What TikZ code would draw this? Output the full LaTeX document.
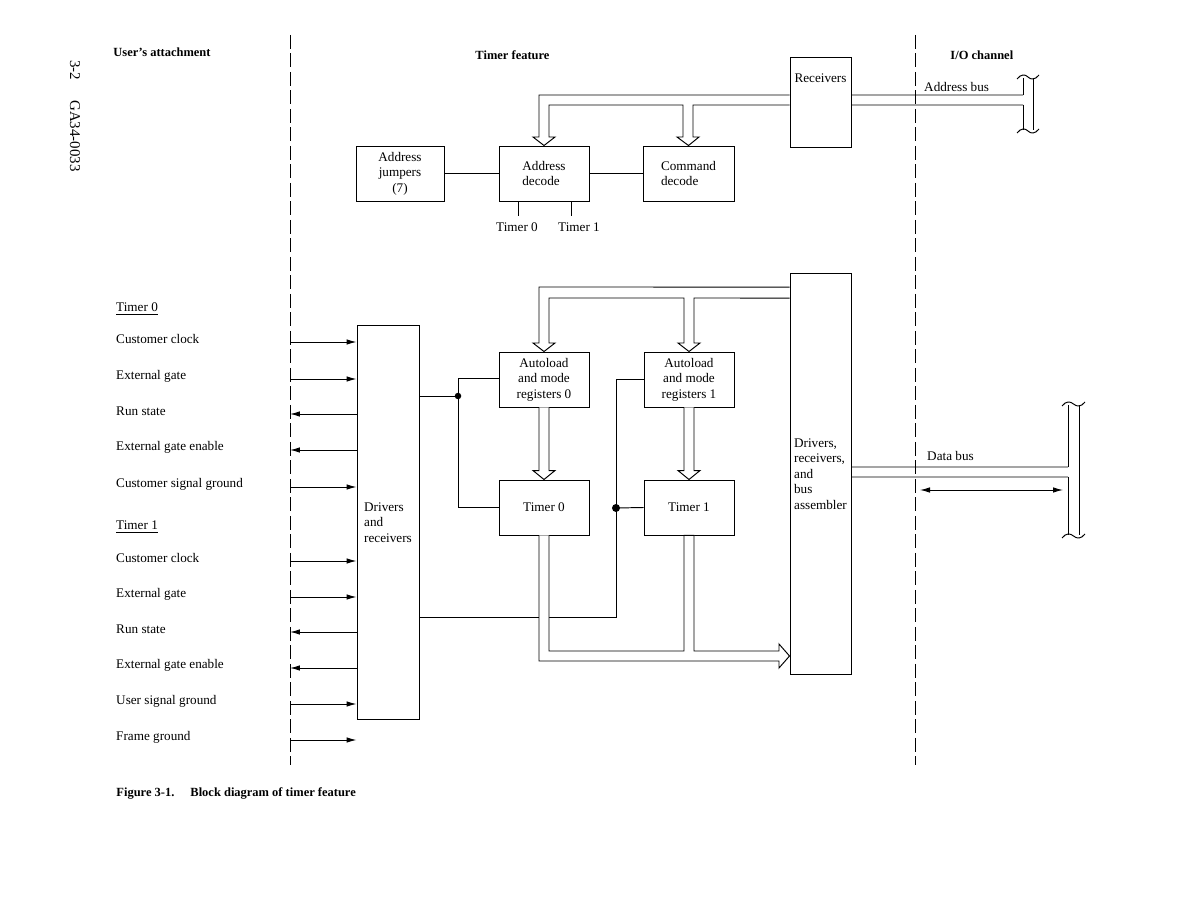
\documentclass[tikz,border=0pt]{standalone}
\usepackage{fontspec}
\setmainfont{Liberation Serif}
\usetikzlibrary{arrows.meta}

% hollow bus arrow from the bottom of one box to the top of another
\newcommand{\vbus}[2]{\draw[bus] ([xshift=-0.1cm]#1.south) -- ([xshift=-0.1cm,yshift=0.18cm]#2.north) -- ([xshift=-0.22cm,yshift=0.18cm]#2.north) -- (#2.north) -- ([xshift=0.22cm,yshift=0.18cm]#2.north) -- ([xshift=0.1cm,yshift=0.18cm]#2.north) -- ([xshift=0.1cm]#1.south);}
% wavy end of a bus bracket
\newcommand{\buscap}[3]{\draw (#1-6,#3+2) .. controls (#1-2,#3-3) and (#1+2,#3-3) .. ({(#1+#2)/2},#3) .. controls (#2-2,#3+3) and (#2+2,#3+3) .. (#2+6,#3-2);}

\begin{document}
\begin{tikzpicture}[
    x=0.02cm, y=-0.02cm,
    line width=0.55pt,
    >={Latex[length=2mm,width=1.1mm]},
    txt/.style={font=\fontsize{7.5}{8.9}\selectfont, inner sep=1pt},
    box/.style={draw, txt, align=center, minimum width=1.8cm, minimum height=1.1cm},
    head/.style={font=\fontsize{7.1}{9}\selectfont\bfseries, anchor=west, inner sep=0pt},
    sig/.style={txt, anchor=west},
    bus/.style={line join=miter, fill=white},
    bound/.style={dash pattern=on 0.28cm off 0.09cm}
]
\useasboundingbox (0,0) rectangle (1188,919);

% boundaries
\draw[bound] (290,35) -- (290,765);
\draw[bound] (915,35) -- (915,765);

\node[head] (hdusr) at (113,52) {User's attachment};
\node[head] (hdtmr) at (475,55) {Timer feature};
\node[head] (hdio) at (950,55) {I/O channel};
\node[txt, rotate=-90, font=\fontsize{8.5}{10}\selectfont] (pgno) at (75,70) {3-2};
\node[txt, rotate=-90, font=\fontsize{8.5}{10}\selectfont] (docno) at (75,136) {GA34-0033};

% address path
\node[box, minimum width=1.22cm, minimum height=1.8cm, label={[txt, anchor=north, yshift=-0.3cm]north:Receivers}] (recv) at (820.5,102) {};
\node[box, minimum width=1.76cm] (jump) at (400,173.5) {Address\\jumpers\\(7)};
\node[box, align=left] (adec) at (544,173.5) {Address\\decode};
\node[box, minimum width=1.82cm, align=left] (cdec) at (688.5,173.5) {Command\\decode};
\node[txt] (sel0) at (517,227) {Timer 0};
\node[txt] (sel1) at (579,227) {Timer 1};

\draw (jump) -- (adec);
\draw (adec) -- (cdec);
\draw ([xshift=-0.52cm]adec.south) -- ++(0,15);
\draw ([xshift=0.54cm]adec.south) -- ++(0,15);
\draw[bus] ([yshift=0.14cm]recv.west) -- (539,95) -- (539,137) -- (533,137) -- (adec.north) -- (555,137) -- (549,137) -- (549,105) -- (683,105) -- (683,137) -- (677,137) -- (cdec.north) -- (699,137) -- (693,137) -- (693,105) -- ([yshift=-0.06cm]recv.west);

% address bus
\node[sig] (abus) at (922,87) {Address bus};
\draw ([yshift=0.14cm]recv.east) -- (1023,95);
\draw ([yshift=-0.06cm]recv.east) -- (1023,105);
\draw (1023,78) -- (1023,95) (1023,105) -- (1023,130) (1033,78) -- (1033,130);
\buscap{1023}{1033}{77}
\buscap{1023}{1033}{131}

% timers
\node[box, minimum width=1.24cm, minimum height=7.9cm, align=left] (dr) at (388,522.5) {Drivers\\and\\receivers};
\node[box, minimum width=1.22cm, minimum height=8.04cm, align=left] (drba) at (820.5,474) {Drivers,\\receivers,\\and\\bus\\assembler};
\node[box] (areg0) at (544,379.5) {Autoload\\and mode\\registers 0};
\node[box] (areg1) at (689,379.5) {Autoload\\and mode\\registers 1};
\node[box] (tmr0) at (544,507.5) {Timer 0};
\node[box] (tmr1) at (689,507.5) {Timer 1};

\draw[bus] ([yshift=3.74cm]drba.west) -- (539,287) -- (539,343) -- (533,343) -- (areg0.north) -- (555,343) -- (549,343) -- (549,298) -- (684,298) -- (684,343) -- (678,343) -- (areg1.north) -- (700,343) -- (694,343) -- (694,298) -- ([yshift=3.52cm]drba.west);
\vbus{areg0}{tmr0}
\vbus{areg1}{tmr1}

\coordinate (j0) at (458,396);
\coordinate (j1) at (616,508);
\coordinate (k1) at (616,617);
\draw (dr.east |- j0) -- (j0);
\draw (j0) |- ([yshift=0.03cm]areg0.west);
\draw (j0) |- (tmr0.west);
\draw (dr.east |- k1) -- (k1) -- (j1);
\draw (j1) |- (areg1.west);
\draw (j1) -- (tmr1.west);
\fill (j0) circle (0.065cm);
\fill (j1) circle (0.08cm);

\draw[bus] ([xshift=-0.1cm]tmr0.south) -- (539,661) -- (779,661) -- (779,668) -- (drba.west |- 0,656) -- (779,644) -- (779,651) -- (694,651) -- ([xshift=0.1cm]tmr1.south) -- ([xshift=-0.1cm]tmr1.south) -- (684,651) -- (549,651) -- ([xshift=0.1cm]tmr0.south);

% data bus
\node[sig] (dbus) at (925,456) {Data bus};
\draw ([yshift=0.14cm]drba.east) -- (1068,467);
\draw ([yshift=-0.06cm]drba.east) -- (1068,477);
\draw (1068,405) -- (1068,467) (1068,477) -- (1068,535) (1079,405) -- (1079,535);
\buscap{1068}{1079}{404}
\buscap{1068}{1079}{536}
\coordinate (dbl) at (920,490);
\coordinate (dbr) at (1063,490);
\draw[<->] (dbl) -- (dbr);

% user's attachment signals
\node[sig] (grp0) at (114,309) {\underline{Timer 0}};
\node[sig] (grp1) at (114,527) {\underline{Timer 1}};
\foreach \yy/\lbl in {342/Customer clock, 379/External gate, 487/Customer signal ground, 561/Customer clock, 597/External gate, 704/User signal ground, 740/Frame ground} {
  \node[sig] (in\yy) at (114,\yy-3) {\lbl};
  \coordinate (pin\yy) at (290,\yy);
  \draw[->] (pin\yy) -- (dr.west |- pin\yy);
}
\foreach \yy/\lbl in {414/Run state, 450/External gate enable, 632/Run state, 668/External gate enable} {
  \node[sig] (out\yy) at (114,\yy-3) {\lbl};
  \coordinate (pout\yy) at (290,\yy);
  \draw[->] (dr.west |- pout\yy) -- (pout\yy);
}

\node[head] (cap) at (116,793) {Figure 3-1.\hspace{0.32cm}Block diagram of timer feature};
\end{tikzpicture}
\end{document}
